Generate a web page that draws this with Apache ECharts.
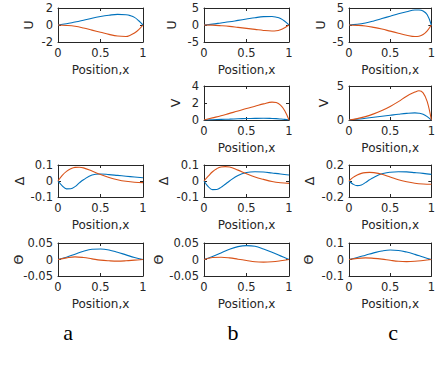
<!DOCTYPE html>
<html>
<head>
<meta charset="utf-8">
<script src="https://cdn.jsdelivr.net/npm/echarts@6/dist/echarts.min.js"></script>
<style>
  html, body { margin: 0; padding: 0; background: #fff; }
  #chart { width: 438px; height: 371px; }
</style>
</head>
<body>
<div id="chart"></div>
<script>
// sample positions along x
const X_UV = [0, 0.1, 0.2, 0.3, 0.4, 0.5, 0.6, 0.7, 0.8, 0.85, 0.9, 0.95, 1];
const X_D = [0, 0.05, 0.1, 0.15, 0.2, 0.25, 0.3, 0.4, 0.5, 0.6, 0.7, 0.8, 0.9, 1];
const X_T = [0, 0.1, 0.2, 0.3, 0.4, 0.5, 0.6, 0.7, 0.8, 0.9, 1];

// U
const aU_blue = [0, 0.15, 0.35, 0.55, 0.8, 1.0, 1.15, 1.25, 1.2, 1.1, 0.9, 0.5, 0];
const aU_orange = [0, -0.05, -0.15, -0.35, -0.6, -0.85, -1.1, -1.3, -1.35, -1.2, -0.95, -0.55, 0];
const bU_blue = [0, 0.25, 0.6, 0.95, 1.35, 1.75, 2.15, 2.45, 2.5, 2.3, 1.9, 1.1, 0];
const bU_orange = [0, -0.05, -0.2, -0.4, -0.7, -1.0, -1.3, -1.6, -1.75, -1.7, -1.4, -0.8, 0];
const cU_blue = [0, 0.2, 0.6, 1.2, 1.9, 2.6, 3.3, 3.9, 4.4, 4.4, 4.1, 3.0, 0];
const cU_orange = [0, -0.1, -0.3, -0.7, -1.2, -1.8, -2.4, -3.0, -3.4, -3.3, -2.8, -1.7, 0];

// V
const bV_blue = [0, 0.03, 0.07, 0.1, 0.14, 0.17, 0.19, 0.2, 0.18, 0.16, 0.12, 0.07, 0];
const bV_orange = [0, 0.25, 0.5, 0.78, 1.05, 1.35, 1.62, 1.9, 2.1, 2.05, 1.75, 1.1, 0];
const cV_blue = [0, 0.1, 0.25, 0.4, 0.55, 0.7, 0.85, 0.98, 1.05, 1.0, 0.85, 0.5, 0];
const cV_orange = [0, 0.2, 0.5, 0.9, 1.4, 2.0, 2.7, 3.5, 4.1, 4.3, 4.0, 2.7, 0];

// Delta
const aD_blue = [0, -0.03, -0.049, -0.048, -0.035, -0.012, 0.008, 0.038, 0.044, 0.04, 0.035, 0.03, 0.025, 0.02];
const aD_orange = [0, 0.035, 0.06, 0.076, 0.085, 0.086, 0.082, 0.062, 0.04, 0.022, 0.008, -0.002, -0.008, -0.01];
const bD_blue = [0, -0.035, -0.054, -0.053, -0.04, -0.02, 0, 0.035, 0.053, 0.058, 0.056, 0.05, 0.044, 0.037];
const bD_orange = [0, 0.03, 0.058, 0.077, 0.088, 0.09, 0.088, 0.068, 0.045, 0.025, 0.01, -0.003, -0.011, -0.015];
const cD_blue = [0, -0.04, -0.058, -0.05, -0.02, 0.015, 0.045, 0.09, 0.11, 0.116, 0.114, 0.105, 0.095, 0.083];
const cD_orange = [0, 0.045, 0.075, 0.095, 0.105, 0.108, 0.105, 0.085, 0.05, 0.015, -0.01, -0.028, -0.037, -0.04];

// Theta
const aT_blue = [0, 0.007, 0.016, 0.025, 0.031, 0.032, 0.029, 0.022, 0.014, 0.006, 0];
const aT_orange = [0, 0.005, 0.008, 0.006, 0.002, -0.002, -0.004, -0.005, -0.004, -0.002, 0];
const bT_blue = [0, 0.009, 0.02, 0.031, 0.039, 0.042, 0.04, 0.032, 0.022, 0.011, 0];
const bT_orange = [0, 0.006, 0.007, 0.005, 0.001, -0.003, -0.007, -0.008, -0.007, -0.004, 0];
const cT_blue = [0, 0.012, 0.026, 0.04, 0.052, 0.058, 0.055, 0.045, 0.031, 0.015, 0];
const cT_orange = [0, 0.007, 0.01, 0.007, 0.002, -0.005, -0.011, -0.013, -0.011, -0.006, 0];

const xTicks = [0, 0.5, 1];
const panelLetters = ['a', 'b', 'c'];

const BLUE = '#0072BD';
const ORANGE = '#D95319';
const INK = '#262626';
const FONT = 'DejaVu Sans';

const colLeft = [58, 204, 349];
const rows = [
  { top: 8, height: 34 },
  { top: 86, height: 34 },
  { top: 165, height: 32 },
  { top: 243, height: 33 }
];

const panels = [
  { col: 0, row: 0, name: 'U', min: -2, max: 2, step: 2, xs: X_UV, blue: aU_blue, orange: aU_orange, gap: 23 },
  { col: 1, row: 0, name: 'U', min: -5, max: 5, step: 5, xs: X_UV, blue: bU_blue, orange: bU_orange, gap: 26 },
  { col: 2, row: 0, name: 'U', min: -5, max: 5, step: 5, xs: X_UV, blue: cU_blue, orange: cU_orange, gap: 22 },
  { col: 1, row: 1, name: 'V', min: 0, max: 4, step: 2, xs: X_UV, blue: bV_blue, orange: bV_orange, gap: 22 },
  { col: 2, row: 1, name: 'V', min: 0, max: 5, step: 5, xs: X_UV, blue: cV_blue, orange: cV_orange, gap: 19 },
  { col: 0, row: 2, name: 'Δ', min: -0.1, max: 0.1, step: 0.1, xs: X_D, blue: aD_blue, orange: aD_orange, gap: 32 },
  { col: 1, row: 2, name: 'Δ', min: -0.1, max: 0.1, step: 0.1, xs: X_D, blue: bD_blue, orange: bD_orange, gap: 34 },
  { col: 2, row: 2, name: 'Δ', min: -0.2, max: 0.2, step: 0.2, xs: X_D, blue: cD_blue, orange: cD_orange, gap: 33 },
  { col: 0, row: 3, name: 'Θ', min: -0.05, max: 0.05, step: 0.05, xs: X_T, blue: aT_blue, orange: aT_orange, gap: 33 },
  { col: 1, row: 3, name: 'Θ', min: -0.05, max: 0.05, step: 0.05, xs: X_T, blue: bT_blue, orange: bT_orange, gap: 39 },
  { col: 2, row: 3, name: 'Θ', min: -0.1, max: 0.1, step: 0.1, xs: X_T, blue: cT_blue, orange: cT_orange, gap: 34 }
];

const tick = { show: true, inside: true, length: 3, lineStyle: { color: INK, width: 1 } };
const line = { show: true, onZero: false, lineStyle: { color: INK, width: 1 } };

const grid = [], xAxis = [], yAxis = [], series = [];
panels.forEach((p, i) => {
  grid.push({ left: colLeft[p.col], top: rows[p.row].top, width: 85, height: rows[p.row].height });
  const xBase = {
    gridIndex: i, type: 'value', min: xTicks[0], max: xTicks[2], interval: xTicks[1] - xTicks[0],
    axisLine: line, axisTick: tick, splitLine: { show: false }
  };
  xAxis.push(Object.assign({}, xBase, {
    position: 'bottom',
    axisLabel: { color: INK, fontFamily: FONT, fontSize: 11.5, margin: 5 },
    name: 'Position,x', nameLocation: 'middle', nameGap: 22, nameMoveOverlap: false,
    nameTextStyle: { color: INK, fontFamily: FONT, fontSize: 12 }
  }));
  xAxis.push(Object.assign({}, xBase, { position: 'top', axisLabel: { show: false } }));
  const yBase = {
    gridIndex: i, type: 'value', min: p.min, max: p.max, interval: p.step,
    axisLine: line, axisTick: tick, splitLine: { show: false }
  };
  yAxis.push(Object.assign({}, yBase, {
    position: 'left',
    axisLabel: { color: INK, fontFamily: FONT, fontSize: 11.5, margin: 5 },
    name: p.name, nameLocation: 'middle', nameRotate: 90, nameGap: p.gap, nameMoveOverlap: false,
    nameTextStyle: { color: INK, fontFamily: FONT, fontSize: 12.5 }
  }));
  yAxis.push(Object.assign({}, yBase, { position: 'right', axisLabel: { show: false } }));
  [['blue', BLUE], ['orange', ORANGE]].forEach(([key, color]) => {
    series.push({
      type: 'line', xAxisIndex: 2 * i, yAxisIndex: 2 * i,
      data: p.xs.map((x, k) => [x, p[key][k]]),
      smooth: 0.4, showSymbol: false, silent: true,
      lineStyle: { color: color, width: 1.1 }, itemStyle: { color: color }
    });
  });
});

const letterX = [68, 233, 393];
const graphic = panelLetters.map((t, k) => ({
  type: 'text', x: letterX[k], y: 332,
  style: { text: t, fill: '#000', font: '22px "Liberation Serif"', textAlign: 'center', textVerticalAlign: 'middle' }
}));

const chart = echarts.init(document.getElementById('chart'), null, { renderer: 'svg' });
chart.setOption({
  animation: false,
  backgroundColor: '#fff',
  grid, xAxis, yAxis, series, graphic
});
</script>
</body>
</html>
